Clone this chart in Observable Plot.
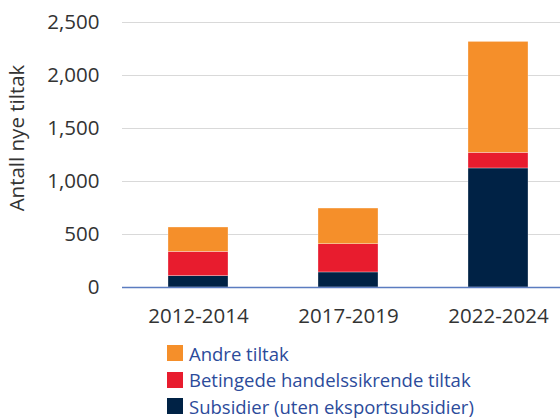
<!DOCTYPE html>
<html>
<head>
<meta charset="utf-8">
<script src="https://cdn.jsdelivr.net/npm/d3@7"></script>
<script src="https://cdn.jsdelivr.net/npm/@observablehq/plot@0.6"></script>
<style>
  body { margin: 0; background: white; font-family: "Open Sans", sans-serif; }
  #chart svg { overflow: hidden; }
  #legend { margin: 5px 0 0 167px; }
  .row { display: flex; align-items: center; height: 26.5px; font-size: 18.5px; color: #2c4b9b; white-space: nowrap; }
  .sw { width: 16px; height: 16px; margin-right: 6px; flex: none; }
</style>
</head>
<body>
<div id="chart"></div>
<div id="legend"></div>
<script>
const periods = ["2012-2014", "2017-2019", "2022-2024"];
const seriesNames = ["Subsidier (uten eksportsubsidier)", "Betingede handelssikrende tiltak", "Andre tiltak"];
const subsidier = [107, 142, 1123];
const betingede = [229, 266, 147];
const andre = [230, 337, 1047];
const colors = ["#002245", "#e81c2e", "#f58f2a"];
const yTicks = [0, 500, 1000, 1500, 2000, 2500];

const seriesValues = [subsidier, betingede, andre];
const data = [];
seriesNames.forEach((s, si) => periods.forEach((p, pi) => data.push({period: p, series: s, value: seriesValues[si][pi], order: si})));

const chart = Plot.plot({
  width: 560,
  height: 335,
  marginLeft: 122,
  marginRight: -14,
  marginTop: 22,
  marginBottom: 48,
  style: { fontFamily: "Open Sans, sans-serif", fontSize: "20.5px", color: "#333" },
  x: { domain: periods, paddingInner: 0.6, paddingOuter: 0.3, label: null, tickSize: 0, tickPadding: 21 },
  y: { domain: [0, 2500], ticks: yTicks, tickFormat: d3.format(","), label: "Antall nye tiltak", labelAnchor: "center", labelArrow: "none", labelOffset: 113, tickSize: 0, tickPadding: 23 },
  color: { domain: seriesNames, range: colors },
  marks: [
    Plot.gridY(yTicks.filter(d => d > 0), { stroke: "#d9d9d9", strokeOpacity: 1 }),
    Plot.barY(data, Plot.stackY({ order: "order" }, { x: "period", y: "value", fill: "series", stroke: "white", strokeWidth: 0.5, strokeOpacity: 0.6 })),
    Plot.ruleY([0], { stroke: "#5b7cc0", strokeWidth: 1.5 })
  ]
});
document.getElementById("chart").appendChild(chart);

// nudge the y-axis title up to match the reference
d3.select(chart).selectAll('g[aria-label="y-axis label"] text').each(function() {
  const t = this.getAttribute("transform") || "";
  this.setAttribute("transform", "translate(0,-17) " + t);
});

const legend = document.getElementById("legend");
[2, 1, 0].forEach(i => {
  const row = document.createElement("div");
  row.className = "row";
  const sw = document.createElement("span");
  sw.className = "sw";
  sw.style.background = colors[i];
  const t = document.createElement("span");
  t.textContent = seriesNames[i];
  row.appendChild(sw); row.appendChild(t);
  legend.appendChild(row);
});
</script>
</body>
</html>
